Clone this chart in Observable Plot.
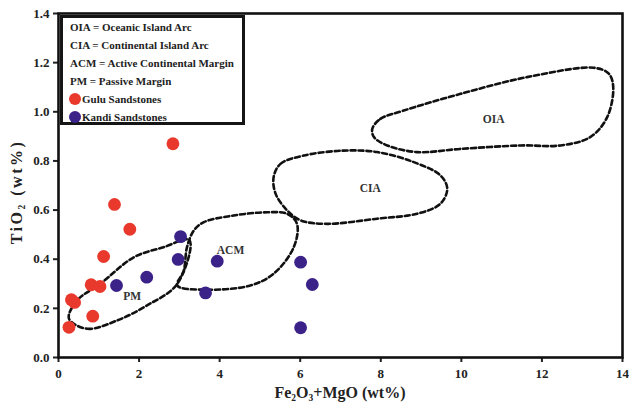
<!DOCTYPE html>
<html><head><meta charset="utf-8">
<script src="https://cdn.jsdelivr.net/npm/d3@7"></script>
<script src="https://cdn.jsdelivr.net/npm/@observablehq/plot@0.6"></script>
<style>
body{margin:0;background:#fff;}
#wrap{position:relative;width:633px;height:407px;}
#legend{position:absolute;left:60px;top:15px;width:172px;height:104px;border:3px solid #151515;background:#fff;
  font:bold 11px "Liberation Serif",serif;color:#222;padding-left:7px;}
#legend div{height:18px;line-height:18px;white-space:nowrap;display:flex;align-items:center;}
#legend span.dot{display:inline-block;width:12px;height:12px;border-radius:50%;margin-right:1px;margin-left:-1px;}
</style></head>
<body><div id="wrap"></div>
<script>
// ---- data ----
const guluX = [0.26, 0.32, 0.40, 0.81, 1.03, 0.85, 1.12, 1.39, 1.77, 2.84];
const guluY = [0.123, 0.235, 0.224, 0.296, 0.289, 0.168, 0.411, 0.623, 0.522, 0.870];
const kandiX = [1.44, 2.19, 3.03, 2.97, 3.94, 3.65, 6.01, 6.30, 6.01];
const kandiY = [0.293, 0.327, 0.492, 0.399, 0.392, 0.263, 0.388, 0.297, 0.121];

// tectonic field boundaries (Bhatia 1983), in data units
const pmX = [0.26, 0.71, 1.46, 2.20, 2.95, 3.25, 2.61, 1.87, 1.04, 0.46];
const pmY = [0.158, 0.117, 0.151, 0.212, 0.300, 0.478, 0.449, 0.408, 0.300, 0.232];
const acmX = [2.95, 3.69, 4.76, 5.34, 5.84, 5.92, 5.67, 5.18, 4.35, 3.61, 3.36, 3.19, 3.11];
const acmY = [0.293, 0.276, 0.293, 0.341, 0.449, 0.544, 0.585, 0.591, 0.578, 0.551, 0.517, 0.449, 0.354];
const ciaX = [5.34, 5.51, 6.09, 7.08, 7.91, 8.82, 9.48, 9.65, 9.48, 8.90, 7.91, 6.67, 6.01, 5.68, 5.39];
const ciaY = [0.734, 0.788, 0.822, 0.842, 0.836, 0.795, 0.741, 0.687, 0.626, 0.585, 0.565, 0.544, 0.558, 0.598, 0.666];
const oiaX = [7.79, 7.99, 8.57, 9.98, 11.63, 13.29, 13.66, 13.77, 13.62, 13.20, 12.46, 11.47, 9.98, 8.90, 8.16, 7.83];
const oiaY = [0.931, 0.971, 1.005, 1.073, 1.141, 1.179, 1.155, 1.100, 0.978, 0.897, 0.863, 0.863, 0.849, 0.836, 0.863, 0.897];

const fieldNames = ["OIA", "CIA", "ACM", "PM"];
const fieldLabelX = [10.80, 7.74, 4.27, 1.83];
const fieldLabelY = [0.968, 0.689, 0.436, 0.249];

const xTicks = [0, 2, 4, 6, 8, 10, 12, 14];
const yTicks = [0.0, 0.2, 0.4, 0.6, 0.8, 1.0, 1.2, 1.4];

const legendLines = ["OIA = Oceanic Island Arc", "CIA = Continental Island Arc",
  "ACM = Active Continental Margin", "PM = Passive Margin"];
const seriesNames = ["Gulu Sandstones", "Kandi Sandstones"];
const seriesColors = ["#e8392c", "#3b2288"];

// ---- build tables ----
const zip = (xs, ys, extra) => xs.map((x, i) => ({x, y: ys[i], ...extra}));
const gulu = zip(guluX, guluY, {s: seriesNames[0]});
const kandi = zip(kandiX, kandiY, {s: seriesNames[1]});
const fields = [zip(oiaX, oiaY), zip(ciaX, ciaY), zip(acmX, acmY), zip(pmX, pmY)];
const labels = fieldNames.map((n, i) => ({n, x: fieldLabelX[i], y: fieldLabelY[i]}));

const font = "'Liberation Serif', 'Times New Roman', serif";

const plot = Plot.plot({
  width: 633, height: 407,
  marginLeft: 58, marginRight: 11, marginTop: 13, marginBottom: 50,
  style: {fontFamily: font, fontWeight: "bold", fontSize: "13px", color: "#222", background: "#fff"},
  x: {domain: [0, 14], ticks: xTicks, label: null},
  y: {domain: [0, 1.4], ticks: yTicks, label: null, tickFormat: d3.format(".1f")},
  marks: [
    ...fields.map(f => Plot.line(f, {x: "x", y: "y", curve: "catmull-rom-closed", stroke: "#111",
      strokeWidth: 2.6, strokeDasharray: "5,3"})),
    Plot.text(labels, {x: "x", y: "y", text: "n", fontSize: 11.5, fontWeight: "bold", fill: "#333"}),
    Plot.dot(gulu, {x: "x", y: "y", r: 6.4, fill: seriesColors[0]}),
    Plot.dot(kandi, {x: "x", y: "y", r: 6.4, fill: seriesColors[1]}),
    Plot.axisX({ticks: xTicks, tickSize: 5, tickPadding: 6, strokeWidth: 2, fontSize: 13, fontWeight: "bold", label: null}),
    Plot.axisY({ticks: yTicks, tickSize: 5, tickPadding: 4, strokeWidth: 2, fontSize: 13, fontWeight: "bold",
      tickFormat: d3.format(".1f"), label: null}),
    Plot.frame({stroke: "#111", strokeWidth: 2.6})
  ]
});

const wrap = document.getElementById("wrap");
wrap.appendChild(plot);

// axis titles with subscripts
const svg = d3.select(plot);
const xt = svg.append("text").attr("x", 340).attr("y", 398).attr("text-anchor", "middle")
  .attr("font-family", font).attr("font-weight", "bold").attr("font-size", 16).attr("fill", "#222");
[["Fe", 0], ["2", 1], ["O", 0], ["3", 1], ["+MgO (wt%)", 0]].forEach(([t, sub]) => {
  const ts = xt.append("tspan").text(t);
  if (sub) ts.attr("font-size", 9.5).attr("baseline-shift", "-25%");
});
const yt = svg.append("text").attr("transform", "translate(22,192) rotate(-90)").attr("text-anchor", "middle")
  .attr("font-family", font).attr("font-weight", "bold").attr("font-size", 16).attr("fill", "#222")
  .attr("letter-spacing", 2.5);
[["TiO", 0], ["2", 1], [" (wt%)", 0]].forEach(([t, sub]) => {
  const ts = yt.append("tspan").text(t);
  if (sub) ts.attr("font-size", 9.5).attr("baseline-shift", "-25%");
});

// legend box
const lg = document.createElement("div");
lg.id = "legend";
legendLines.forEach(t => { const d = document.createElement("div"); d.textContent = t; lg.appendChild(d); });
seriesNames.forEach((t, i) => {
  const d = document.createElement("div");
  const s = document.createElement("span"); s.className = "dot"; s.style.background = seriesColors[i];
  d.appendChild(s); d.appendChild(document.createTextNode(t)); lg.appendChild(d);
});
wrap.appendChild(lg);
</script></body></html>
